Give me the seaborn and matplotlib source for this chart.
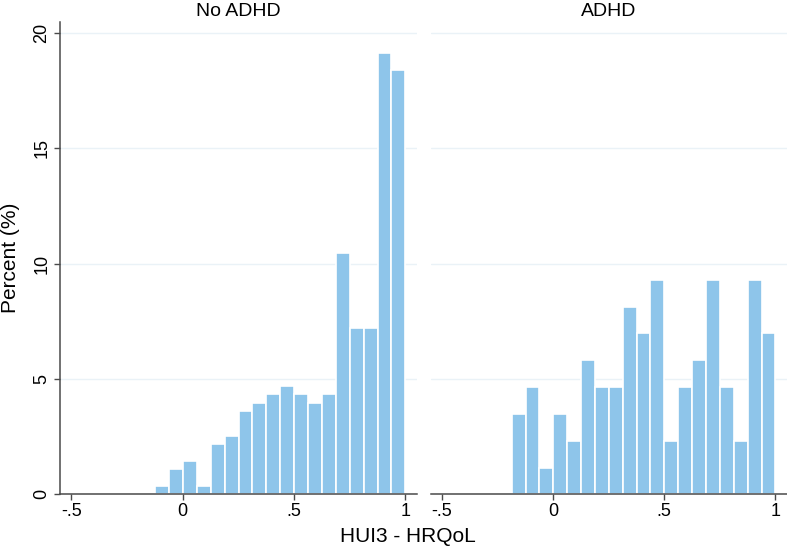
import numpy as np
import pandas as pd
import matplotlib
matplotlib.use("Agg")
import matplotlib.pyplot as plt
import seaborn as sns

# Binned HUI3 percentages
groups = ["No ADHD", "ADHD"]
no_adhd_start = -0.123
no_adhd_pct = [0.36, 1.08, 1.44, 0.36, 2.17, 2.53, 3.61, 3.97, 4.33, 4.69,
               4.33, 3.97, 4.33, 10.47, 7.22, 7.22, 19.13, 18.41]
adhd_start = -0.186
adhd_pct = [3.49, 4.65, 1.16, 3.49, 2.33, 5.81, 4.65, 4.65, 8.14, 6.98,
            9.30, 2.33, 4.65, 5.81, 9.30, 4.65, 2.33, 9.30, 6.98]
x_ticks = [-0.5, 0, 0.5, 1]
x_ticklabels = ["-.5", "0", ".5", "1"]
y_ticks = [0, 5, 10, 15, 20]

sns.set_theme(style="white")
plt.rcParams["font.family"] = ["Liberation Sans", "DejaVu Sans"]
plt.rcParams["text.color"] = "black"
plt.rcParams["xtick.color"] = "black"
plt.rcParams["ytick.color"] = "black"

bar_color = "#8ec5ea"
grid_color = "#eaf2f7"
axis_color = "#4a4a4a"

fig = plt.figure(figsize=(7.87, 5.52), dpi=100)
ax_left = fig.add_axes([60 / 787, 1 - 494.3 / 552, (416.5 - 60) / 787, (494.3 - 22) / 552])
ax_right = fig.add_axes([430.7 / 787, 1 - 494.3 / 552, (786.5 - 430.7) / 787, (494.3 - 22) / 552])

panels = [(ax_left, groups[0], no_adhd_start, no_adhd_pct),
          (ax_right, groups[1], adhd_start, adhd_pct)]

for ax, title, start, pct in panels:
    edges = np.linspace(start, 1.0, len(pct) + 1)
    centers = (edges[:-1] + edges[1:]) / 2
    df = pd.DataFrame({"hui3": centers, "pct": pct})
    sns.histplot(data=df, x="hui3", weights="pct", bins=edges.tolist(), ax=ax,
                 color=bar_color, alpha=1, edgecolor="white", linewidth=1.2)
    ax.set_xlim(-0.55, 1.05)
    ax.set_ylim(0, 20.48)
    ax.set_yticks(y_ticks)
    ax.yaxis.grid(True, color=grid_color, linewidth=1)
    ax.set_axisbelow(True)
    ax.set_xticks(x_ticks)
    ax.set_xticklabels(x_ticklabels)
    ax.set_xlabel("")
    ax.set_ylabel("")
    ax.set_title(title, fontsize=14, pad=4, color="black")
    for side in ["top", "right"]:
        ax.spines[side].set_visible(False)
    ax.spines["bottom"].set_color(axis_color)
    ax.spines["bottom"].set_linewidth(1.1)
    ax.tick_params(axis="x", direction="out", length=4, width=1, color=axis_color,
                   labelcolor="black", labelsize=13, pad=2, bottom=True)

ax_left.spines["left"].set_color(axis_color)
ax_left.spines["left"].set_linewidth(1.1)
ax_left.tick_params(axis="y", direction="out", length=4, width=1, color=axis_color,
                    labelcolor="black", labelsize=13, pad=3, left=True)
for lbl in ax_left.get_yticklabels():
    lbl.set_rotation(90)
    lbl.set_va("center")

ax_right.spines["left"].set_visible(False)
ax_right.tick_params(axis="y", left=False, labelleft=False)

fig.text(11 / 787, 1 - 258 / 552, "Percent (%)", rotation=90, ha="center", va="center", fontsize=15)
fig.text(408 / 787, 1 - 537 / 552, "HUI3 - HRQoL", ha="center", va="center", fontsize=15)

fig.savefig("out.png", dpi=100)
